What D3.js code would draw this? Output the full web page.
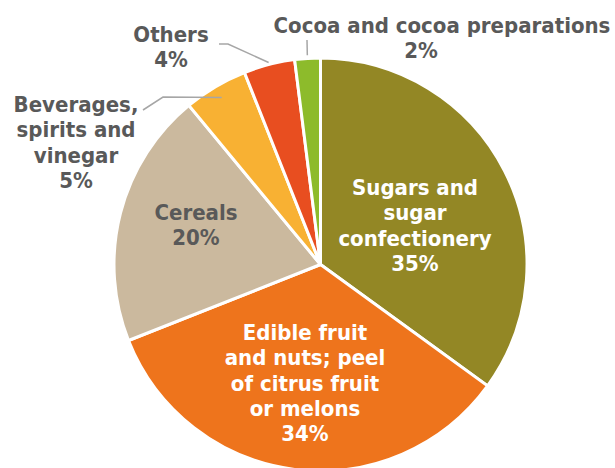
<!DOCTYPE html>
<html>
<head>
<meta charset="utf-8">
<script src="https://cdn.jsdelivr.net/npm/d3@7"></script>
<style>
  html, body { margin: 0; padding: 0; background: #fff; }
  svg { display: block; }
  text {
    font-family: "DejaVu Sans Condensed", "Liberation Sans", sans-serif;
    font-weight: bold;
    font-size: 22px;
    letter-spacing: 0px;
  }
</style>
</head>
<body>
<svg id="chart" width="615" height="468"></svg>
<script>
// Product groups, in drawing order (clockwise from 12 o'clock)
const categories = [
  "Sugars and sugar confectionery",
  "Edible fruit and nuts; peel of citrus fruit or melons",
  "Cereals",
  "Beverages, spirits and vinegar",
  "Others",
  "Cocoa and cocoa preparations"
];
// Share of the total, in percent
const shares = [35, 34, 20, 5, 4, 2];
// How each category name is broken over lines
const nameLines = [
  ["Sugars and", "sugar", "confectionery"],
  ["Edible fruit", "and nuts; peel", "of citrus fruit", "or melons"],
  ["Cereals"],
  ["Beverages,", "spirits and", "vinegar"],
  ["Others"],
  ["Cocoa and cocoa preparations"]
];

// Slice fills
const sliceColors = ["#938725", "#EE741C", "#CBB99E", "#F8B133", "#E84E20", "#8DBB2B"];

// Label placement: centre x, first baseline, text colour, optional x for the % line
const labelLayout = [
  { x: 415, y: 195, fill: "#ffffff" },
  { x: 305, y: 340, fill: "#ffffff" },
  { x: 196, y: 220, fill: "#595959" },
  { x: 76,  y: 112, fill: "#595959" },
  { x: 171, y: 42,  fill: "#595959" },
  { x: 442, y: 33,  fill: "#595959", pctX: 421 }
];
const lineHeight = 25.3;

// Leader lines for the small slices: start radius factor, then bend points
const leaders = [
  null, null, null,
  { k: 0.94, pts: [[163, 97], [143, 110]] },
  { k: 1.01, pts: [[228, 44], [219, 44]] },
  { k: 1.015, pts: [[307, 40]] }
];

const svg = d3.select("#chart");
const cx = 320.5, cy = 264.5, radius = 206.5;

const data = categories.map((c, i) => ({ name: c, value: shares[i], i }));

const color = d3.scaleOrdinal().domain(categories).range(sliceColors);

const pie = d3.pie().value(d => d.value).sort(null).startAngle(0).endAngle(2 * Math.PI);
const arcs = pie(data);
const arc = d3.arc().innerRadius(0).outerRadius(radius);

const g = svg.append("g").attr("transform", `translate(${cx},${cy})`);

g.selectAll("path.slice")
  .data(arcs)
  .join("path")
  .attr("class", "slice")
  .attr("d", arc)
  .attr("fill", d => color(d.data.name))
  .attr("stroke", "#ffffff")
  .attr("stroke-width", 3)
  .attr("stroke-linejoin", "miter");

// Leader lines
const line = d3.line();
arcs.forEach((d, i) => {
  const L = leaders[i];
  if (!L) return;
  const mid = (d.startAngle + d.endAngle) / 2;
  const r = radius * L.k;
  const start = [cx + r * Math.sin(mid), cy - r * Math.cos(mid)];
  svg.append("path")
    .attr("d", line([start, ...L.pts]))
    .attr("fill", "none")
    .attr("stroke", "#A6A6A6")
    .attr("stroke-width", 1.5);
});

// Labels
arcs.forEach((d, i) => {
  const lay = labelLayout[i];
  const lines = nameLines[i];
  const t = svg.append("text")
    .attr("text-anchor", "middle")
    .attr("fill", lay.fill);
  lines.forEach((s, j) => {
    t.append("tspan")
      .attr("x", lay.x)
      .attr("y", lay.y + j * lineHeight)
      .text(s);
  });
  t.append("tspan")
    .attr("x", lay.pctX != null ? lay.pctX : lay.x)
    .attr("y", lay.y + lines.length * lineHeight)
    .text(d3.format("d")(d.data.value) + "%");
});
</script>
</body>
</html>
